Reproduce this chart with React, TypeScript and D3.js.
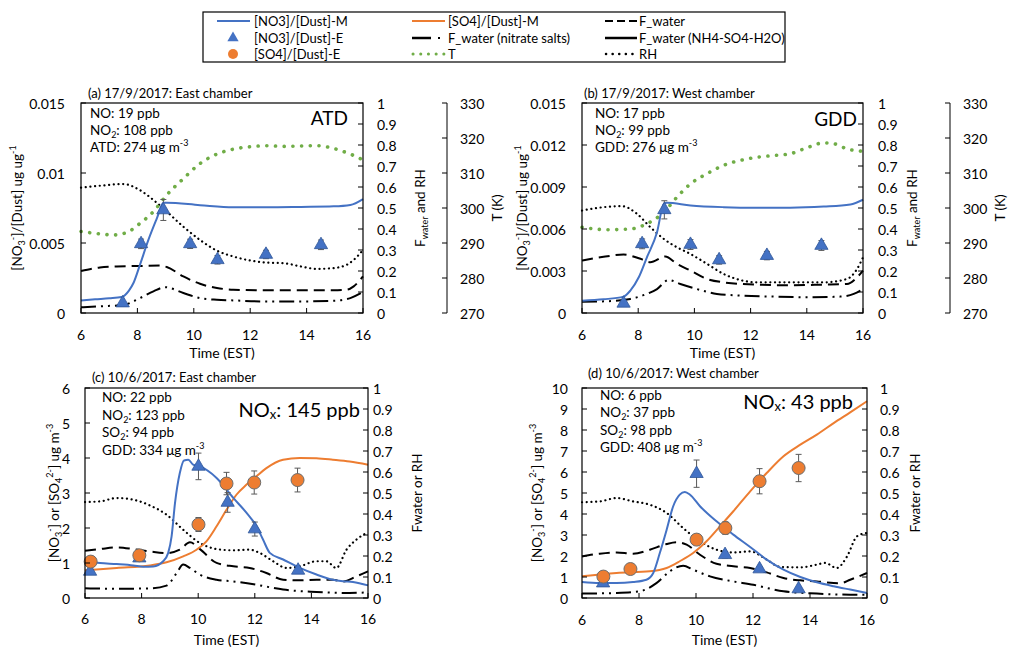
import React from "react";
import * as d3 from "d3";

type P = [number, number];

// ---------------- DATA ----------------
const timeTicks = [6, 8, 10, 12, 14, 16];
const rightTicks = [0, 0.1, 0.2, 0.3, 0.4, 0.5, 0.6, 0.7, 0.8, 0.9, 1];
const tempTicks = [270, 280, 290, 300, 310, 320, 330];
const aLeftTicks = [0, 0.005, 0.01, 0.015];
const bLeftTicks = [0, 0.003, 0.006, 0.009, 0.012, 0.015];
const cLeftTicks = [0, 1, 2, 3, 4, 5, 6];
const dLeftTicks = [0, 1, 2, 3, 4, 5, 6, 7, 8, 9, 10];

// Panel (a)
const aNO3M: P[] = [[6,0.0009],[6.5,0.00098],[7,0.00105],[7.44,0.00114],[7.7,0.0016],[7.86,0.00214],[8.09,0.00344],[8.39,0.00522],[8.69,0.00676],[8.92,0.00788],[9.04,0.00788],[10.22,0.0077],[11.4,0.00755],[12.6,0.00755],[13.8,0.00758],[14.96,0.00762],[15.55,0.00772],[16,0.00814]];
const aNO3E: P[] = [[7.48,0.00071],[8.13,0.00494],[8.92,0.00736],[9.87,0.00494],[10.84,0.0038],[12.56,0.00418],[14.51,0.00487]];
const aNO3Err = [0.0001,0.00034,0.00075,0.00033,0.0003,0.0003,0.00034];
const aT: P[] = [[6,293.3],[6.67,292.6],[7.15,292.3],[7.62,293],[8.09,295.6],[8.57,299],[9.04,303.7],[9.63,308.4],[10.22,312.7],[10.82,315.4],[11.4,316.8],[12,317.5],[12.6,317.8],[13.2,317.6],[13.78,317.7],[14.37,317.8],[14.96,317],[15.55,315.4],[16,313.7]];
const aRH: P[] = [[6,0.597],[6.67,0.606],[7.5,0.614],[8.09,0.585],[8.57,0.538],[9.04,0.483],[9.63,0.411],[10.22,0.348],[10.82,0.297],[11.4,0.269],[12,0.25],[12.6,0.24],[13.2,0.237],[13.78,0.222],[14.37,0.21],[14.96,0.214],[15.43,0.23],[15.67,0.253],[16,0.3]];
const aFw: P[] = [[6,0.2],[6.67,0.217],[7.27,0.222],[8.09,0.224],[8.8,0.226],[9.04,0.219],[9.63,0.174],[10.22,0.139],[10.82,0.119],[11.4,0.111],[12.6,0.108],[13.78,0.108],[14.96,0.108],[15.43,0.111],[15.67,0.127],[16,0.174]];
const aFwN: P[] = [[6,0.027],[6.67,0.032],[7.5,0.038],[8.09,0.071],[8.57,0.103],[8.98,0.123],[9.63,0.095],[10.22,0.071],[10.82,0.063],[11.4,0.06],[12.6,0.055],[13.78,0.055],[14.96,0.058],[15.55,0.071],[16,0.1]];

// Panel (b)
const bNO3M: P[] = [[6,0.00088],[6.77,0.00098],[7.48,0.00117],[7.72,0.0016],[8.02,0.00255],[8.31,0.00398],[8.67,0.00577],[8.91,0.0078],[9.02,0.00787],[9.86,0.00768],[11.04,0.00756],[12.23,0.00752],[13.41,0.00752],[14.6,0.0076],[15.55,0.00775],[16,0.00809]];
const bNO3E: P[] = [[7.48,0.00069],[8.14,0.00494],[8.93,0.00737],[9.86,0.00489],[10.88,0.00379],[12.58,0.0041],[14.52,0.00482]];
const bNO3Err = [0.0001,0.00035,0.00065,0.00035,0.0003,0.0003,0.00035];
const bT: P[] = [[6,294.5],[6.89,293.8],[7.72,294],[8.31,295.5],[8.91,298.8],[9.38,303.1],[9.86,306.9],[10.45,309.8],[11.04,312.2],[11.75,313.8],[12.23,314.5],[12.82,315],[13.41,315.5],[14,317.2],[14.6,318.6],[14.95,318.4],[15.43,316.9],[16,316.2]];
const bRH: P[] = [[6,0.488],[6.77,0.504],[7.42,0.509],[7.96,0.472],[8.43,0.409],[8.91,0.353],[9.38,0.313],[9.86,0.281],[10.45,0.234],[11.04,0.186],[11.63,0.157],[12.23,0.146],[13.41,0.146],[14.6,0.146],[15.43,0.162],[15.79,0.21],[16,0.265]];
const bFw: P[] = [[6,0.25],[6.65,0.265],[7.48,0.278],[8.08,0.258],[8.43,0.242],[8.96,0.269],[9.38,0.234],[9.86,0.202],[10.45,0.162],[11.04,0.146],[12.23,0.135],[13.41,0.132],[14.6,0.135],[15.43,0.138],[15.79,0.17],[16,0.202]];
const bFwN: P[] = [[6,0.054],[6.89,0.056],[7.72,0.067],[8.31,0.091],[8.67,0.114],[9.08,0.157],[9.5,0.138],[10.09,0.114],[10.8,0.091],[11.63,0.083],[12.82,0.078],[14,0.075],[15.19,0.078],[15.67,0.091],[16,0.114]];

// Panel (c)
const cNO3M: P[] = [[6,1.05],[6.53,1.0],[7.12,0.97],[7.71,0.93],[8.06,0.89],[8.41,0.9],[8.76,1.05],[8.94,1.29],[9.06,1.76],[9.18,2.71],[9.35,3.57],[9.5,3.93],[9.65,3.95],[9.82,3.81],[10.06,3.76],[10.65,3.43],[11.24,2.86],[11.71,2.43],[12.06,2.05],[12.29,1.67],[12.53,1.29],[13,1.1],[13.59,0.86],[14.18,0.67],[14.76,0.52],[15.12,0.48],[15.47,0.46],[16,0.36]];
const cSO4M: P[] = [[6,0.79],[7.12,0.86],[8.29,0.93],[8.88,1.02],[9.47,1.19],[9.94,1.38],[10.29,1.62],[10.65,2.05],[11,2.52],[11.35,2.95],[11.71,3.24],[12.06,3.48],[12.41,3.71],[13,3.95],[13.59,4.0],[14.18,3.99],[14.76,3.95],[15.35,3.9],[16,3.81]];
const cNO3E: P[] = [[6.18,0.76],[7.92,1.14],[10.01,3.76],[11.04,2.73],[12,1.97],[13.53,0.79]];
const cNO3Err = [0.05,0.08,0.38,0.28,0.2,0.05];
const cSO4E: P[] = [[6.2,1.04],[7.92,1.22],[10.01,2.1],[11.0,3.27],[11.98,3.3],[13.51,3.37]];
const cSO4Err = [0.05,0.06,0.2,0.32,0.33,0.34];
const cRH: P[] = [[6,0.457],[6.53,0.46],[7.12,0.476],[7.71,0.468],[8.29,0.441],[8.88,0.397],[9.47,0.325],[10.06,0.262],[10.65,0.233],[11.24,0.227],[11.82,0.23],[12.18,0.214],[12.65,0.175],[13.12,0.143],[13.59,0.151],[14.18,0.175],[14.53,0.175],[14.88,0.143],[15.24,0.23],[15.59,0.278],[16,0.313]];
const cFw: P[] = [[6,0.225],[6.53,0.233],[7.12,0.241],[7.71,0.233],[8.29,0.222],[8.88,0.214],[9.35,0.23],[9.71,0.265],[10.06,0.233],[10.65,0.167],[11.24,0.151],[11.82,0.143],[12.41,0.119],[13,0.087],[13.59,0.084],[14.18,0.087],[14.76,0.087],[15.12,0.079],[15.59,0.103],[16,0.127]];
const cFwN: P[] = [[6,0.046],[7.12,0.044],[8.29,0.046],[8.88,0.059],[9.24,0.119],[9.47,0.159],[9.71,0.143],[10.06,0.111],[10.65,0.087],[11.24,0.079],[12.06,0.063],[13,0.04],[14.18,0.029],[15.35,0.024],[16,0.027]];

// Panel (d)
const dNO3M: P[] = [[6,0.76],[6.62,0.71],[7.21,0.71],[7.79,0.76],[8.26,0.87],[8.5,1.19],[8.73,2.14],[8.97,3.25],[9.2,4.37],[9.43,4.92],[9.61,5.05],[9.79,4.92],[10.14,4.37],[10.72,3.65],[11.31,3.02],[11.9,2.43],[12.48,1.83],[13.07,1.35],[13.66,1.0],[14.24,0.75],[14.83,0.56],[15.41,0.4],[16,0.24]];
const dSO4M: P[] = [[6,1.03],[7.21,1.19],[8.38,1.27],[8.97,1.43],[9.43,1.75],[9.9,2.14],[10.37,2.7],[10.84,3.41],[11.31,4.13],[11.9,5.08],[12.48,5.95],[13.07,6.75],[13.66,7.3],[14.24,7.78],[14.83,8.33],[15.41,8.84],[16,9.37]];
const dNO3E: P[] = [[6.74,0.71],[10.02,5.92],[11.02,2.06],[12.23,1.38],[13.6,0.43]];
const dNO3Err = [0.05,0.65,0.15,0.1,0.05];
const dSO4E: P[] = [[6.75,1.02],[7.7,1.38],[10.02,2.78],[11.03,3.33],[12.23,5.56],[13.6,6.19]];
const dSO4Err = [0.05,0.08,0.2,0.3,0.6,0.65];
const dRH: P[] = [[6,0.456],[6.62,0.46],[7.21,0.476],[7.79,0.46],[8.38,0.444],[8.97,0.405],[9.55,0.333],[10.14,0.27],[10.72,0.23],[11.31,0.217],[11.9,0.222],[12.48,0.183],[12.95,0.148],[13.66,0.146],[14.24,0.159],[14.53,0.167],[14.94,0.143],[15.3,0.198],[15.65,0.294],[16,0.31]];
const dFw: P[] = [[6,0.198],[6.62,0.211],[7.21,0.217],[7.79,0.211],[8.38,0.23],[8.97,0.257],[9.32,0.265],[9.67,0.254],[10.14,0.206],[10.72,0.163],[11.31,0.151],[11.9,0.143],[12.48,0.122],[13.07,0.095],[13.66,0.084],[14.24,0.079],[14.83,0.071],[15.06,0.07],[15.41,0.087],[16,0.119]];
const dFwN: P[] = [[6,0.021],[7.21,0.024],[8.03,0.032],[8.61,0.071],[9.08,0.127],[9.55,0.154],[9.9,0.135],[10.49,0.103],[11.31,0.079],[12.01,0.063],[12.48,0.048],[13.07,0.032],[14.24,0.021],[15.41,0.016],[16,0.016]];

// ---------------- STYLE ----------------
const BLUE = "#4472C4";
const ORANGE = "#ED7D31";
const GREEN = "#70AD47";
const FONT = "Lato, 'Open Sans', sans-serif";
const DASH_FW = "11 6";
const DASH_FWN = "15 5 2 5 2 5";
const DOT_RH = "0.1 4.6";
const DOT_T = "0.1 8.6";

type Ann = { kind: "plain" | "sub" | "sup"; a: string; b: string; c?: string };

type Cfg = {
  box: [number, number, number, number];
  leftDomain: [number, number];
  leftTicks: number[];
  title: string;
  titleXY: [number, number];
  ann: Ann[];
  annXY: [number, number, number];
  big: { main: string; sub?: string; rest?: string; x: number; y: number; size: number };
  leftTitleX: number;
  leftTitleKind: "ratio" | "conc";
  leftLabelGap: number;
  rightLabelGap: number;
  rightTitleX: number;
  rightTitle: "and" | "or";
  tempAxisX?: number;
  tempTitleX?: number;
  tickLabelY: number;
  timeTitleY: number;
  no3M: P[];
  so4M?: P[];
  no3E: P[];
  no3Err: number[];
  so4E?: P[];
  so4Err?: number[];
  T?: P[];
  RH: P[];
  Fw: P[];
  FwN: P[];
};

const panels: Cfg[] = [
  {
    box: [81, 103, 363, 313], leftDomain: [0, 0.015], leftTicks: aLeftTicks,
    title: "(a) 17/9/2017: East chamber", titleXY: [88, 93],
    ann: [
      { kind: "plain", a: "NO: 19 ppb", b: "" },
      { kind: "sub", a: "NO", b: "2", c: ": 108 ppb" },
      { kind: "sup", a: "ATD: 274 \u03bcg m", b: "-3" },
    ],
    annXY: [90, 113, 17],
    big: { main: "ATD", x: 348, y: 117, size: 19 },
    leftTitleX: 17, leftTitleKind: "ratio", leftLabelGap: 16, rightLabelGap: 14,
    rightTitleX: 420, rightTitle: "and", tempAxisX: 447, tempTitleX: 497,
    tickLabelY: 334, timeTitleY: 352,
    no3M: aNO3M, no3E: aNO3E, no3Err: aNO3Err, T: aT, RH: aRH, Fw: aFw, FwN: aFwN,
  },
  {
    box: [582, 103, 863, 313], leftDomain: [0, 0.015], leftTicks: bLeftTicks,
    title: "(b) 17/9/2017: West chamber", titleXY: [584, 93],
    ann: [
      { kind: "plain", a: "NO: 17 ppb", b: "" },
      { kind: "sub", a: "NO", b: "2", c: ": 99 ppb" },
      { kind: "sup", a: "GDD: 276 \u03bcg m", b: "-3" },
    ],
    annXY: [595, 113, 17],
    big: { main: "GDD", x: 857, y: 118, size: 19 },
    leftTitleX: 522, leftTitleKind: "ratio", leftLabelGap: 16, rightLabelGap: 15,
    rightTitleX: 912, rightTitle: "and", tempAxisX: 950, tempTitleX: 1000,
    tickLabelY: 334, timeTitleY: 352,
    no3M: bNO3M, no3E: bNO3E, no3Err: bNO3Err, T: bT, RH: bRH, Fw: bFw, FwN: bFwN,
  },
  {
    box: [85, 388, 368, 598], leftDomain: [0, 6], leftTicks: cLeftTicks,
    title: "(c) 10/6/2017: East chamber", titleXY: [92, 377],
    ann: [
      { kind: "plain", a: "NO: 22 ppb", b: "" },
      { kind: "sub", a: "NO", b: "2", c: ": 123 ppb" },
      { kind: "sub", a: "SO", b: "2", c: ": 94 ppb" },
      { kind: "sup", a: "GDD: 334 \u03bcg m", b: "-3" },
    ],
    annXY: [102, 397, 17.7],
    big: { main: "NO", sub: "x", rest: ": 145 ppb", x: 360, y: 409, size: 20 },
    leftTitleX: 54, leftTitleKind: "conc", leftLabelGap: 15, rightLabelGap: 5,
    rightTitleX: 417, rightTitle: "or",
    tickLabelY: 618, timeTitleY: 639,
    no3M: cNO3M, so4M: cSO4M, no3E: cNO3E, no3Err: cNO3Err, so4E: cSO4E, so4Err: cSO4Err,
    RH: cRH, Fw: cFw, FwN: cFwN,
  },
  {
    box: [582, 388, 867, 598], leftDomain: [0, 10], leftTicks: dLeftTicks,
    title: "(d) 10/6/2017: West chamber", titleXY: [588, 373],
    ann: [
      { kind: "plain", a: "NO: 6 ppb", b: "" },
      { kind: "sub", a: "NO", b: "2", c: ": 37 ppb" },
      { kind: "sub", a: "SO", b: "2", c: ": 98 ppb" },
      { kind: "sup", a: "GDD: 408 \u03bcg m", b: "-3" },
    ],
    annXY: [600, 395, 17.3],
    big: { main: "NO", sub: "x", rest: ": 43 ppb", x: 853, y: 401, size: 20 },
    leftTitleX: 537, leftTitleKind: "conc", leftLabelGap: 14, rightLabelGap: 13,
    rightTitleX: 915, rightTitle: "or",
    tickLabelY: 619, timeTitleY: 639,
    no3M: dNO3M, so4M: dSO4M, no3E: dNO3E, no3Err: dNO3Err, so4E: dSO4E, so4Err: dSO4Err,
    RH: dRH, Fw: dFw, FwN: dFwN,
  },
];

const triPath = d3.symbol(d3.symbolTriangle, 76)() as string;

function AnnText({ a, x, y }: { a: Ann; x: number; y: number }) {
  const fs = 13.5;
  if (a.kind === "plain")
    return <text x={x} y={y} fontSize={fs} dominantBaseline="central">{a.a}</text>;
  if (a.kind === "sub")
    return (
      <text x={x} y={y} fontSize={fs} dominantBaseline="central">
        {a.a}
        <tspan dy={4} fontSize={9}>{a.b}</tspan>
        <tspan dy={-4}>{a.c}</tspan>
      </text>
    );
  return (
    <text x={x} y={y} fontSize={fs} dominantBaseline="central">
      {a.a}
      <tspan dy={-5} fontSize={9}>{a.b}</tspan>
    </text>
  );
}

function Panel({ cfg }: { cfg: Cfg }) {
  const [x0, y0, x1, y1] = cfg.box;
  const xs = d3.scaleLinear().domain([6, 16]).range([x0, x1]);
  const yl = d3.scaleLinear().domain(cfg.leftDomain).range([y1, y0]);
  const yr = d3.scaleLinear().domain([0, 1]).range([y1, y0]);
  const yt = d3.scaleLinear().domain([270, 330]).range([y1, y0]);
  const mk = (s: d3.ScaleLinear<number, number>) =>
    d3.line<P>().x((d) => xs(d[0])).y((d) => s(d[1])).curve(d3.curveMonotoneX);
  const cy = (y0 + y1) / 2;
  const cx = (x0 + x1) / 2;
  const fmt = (v: number) => String(v);

  return (
    <g fontFamily={FONT} fill="#000">
      <path d={mk(yr)(cfg.RH) as string} fill="none" stroke="#000" strokeWidth={2.2} strokeDasharray={DOT_RH} strokeLinecap="round" />
      <path d={mk(yr)(cfg.Fw) as string} fill="none" stroke="#000" strokeWidth={2} strokeDasharray={DASH_FW} />
      <path d={mk(yr)(cfg.FwN) as string} fill="none" stroke="#000" strokeWidth={2} strokeDasharray={DASH_FWN} />
      {cfg.T && (
        <path d={mk(yt)(cfg.T) as string} fill="none" stroke={GREEN} strokeWidth={3.6} strokeDasharray={DOT_T} strokeLinecap="round" />
      )}
      {cfg.so4M && <path d={mk(yl)(cfg.so4M) as string} fill="none" stroke={ORANGE} strokeWidth={2} />}
      <path d={mk(yl)(cfg.no3M) as string} fill="none" stroke={BLUE} strokeWidth={2} />

      {cfg.no3E.map((d, i) => {
        const x = xs(d[0]);
        const e = cfg.no3Err[i];
        const yTop = yl(d[1] + e), yBot = yl(Math.max(0, d[1] - e));
        return (
          <g key={"n" + i}>
            <line x1={x} x2={x} y1={yTop} y2={yBot} stroke="#595959" strokeWidth={1} />
            <line x1={x - 3} x2={x + 3} y1={yTop} y2={yTop} stroke="#595959" strokeWidth={1} />
            <line x1={x - 3} x2={x + 3} y1={yBot} y2={yBot} stroke="#595959" strokeWidth={1} />
            <path d={triPath} transform={`translate(${x},${yl(d[1])})`} fill={BLUE} stroke="#2F5597" strokeWidth={0.8} />
          </g>
        );
      })}
      {cfg.so4E &&
        cfg.so4E.map((d, i) => {
          const x = xs(d[0]);
          const e = cfg.so4Err![i];
          const yTop = yl(d[1] + e), yBot = yl(Math.max(0, d[1] - e));
          return (
            <g key={"s" + i}>
              <line x1={x} x2={x} y1={yTop} y2={yBot} stroke="#595959" strokeWidth={1} />
              <line x1={x - 3} x2={x + 3} y1={yTop} y2={yTop} stroke="#595959" strokeWidth={1} />
              <line x1={x - 3} x2={x + 3} y1={yBot} y2={yBot} stroke="#595959" strokeWidth={1} />
              <circle cx={x} cy={yl(d[1])} r={6.5} fill={ORANGE} stroke="#6d6d6d" strokeWidth={1} />
            </g>
          );
        })}

      <rect x={x0} y={y0} width={x1 - x0} height={y1 - y0} fill="none" stroke="#000" strokeWidth={1.2} />

      {timeTicks.map((t) => (
        <g key={"xt" + t}>
          <line x1={xs(t)} x2={xs(t)} y1={y1} y2={y1 - 5} stroke="#000" />
          <text x={xs(t)} y={cfg.tickLabelY} fontSize={14} textAnchor="middle" dominantBaseline="central">{t}</text>
        </g>
      ))}
      <text x={cx} y={cfg.timeTitleY} fontSize={14} textAnchor="middle" dominantBaseline="central">Time (EST)</text>

      {cfg.leftTicks.map((v) => (
        <g key={"yl" + v}>
          <line x1={x0} x2={x0 + 5} y1={yl(v)} y2={yl(v)} stroke="#000" />
          <text x={x0 - cfg.leftLabelGap} y={yl(v)} fontSize={14} textAnchor="end" dominantBaseline="central">{fmt(v)}</text>
        </g>
      ))}
      {cfg.leftTitleKind === "ratio" ? (
        <text transform={`translate(${cfg.leftTitleX},${cy}) rotate(-90)`} fontSize={13.5} textAnchor="middle" dominantBaseline="central">
          [NO<tspan dy={4} fontSize={9}>3</tspan><tspan dy={-9} fontSize={9}>-</tspan><tspan dy={5}>]/[Dust] ug ug</tspan><tspan dy={-5} fontSize={9}>-1</tspan>
        </text>
      ) : (
        <text transform={`translate(${cfg.leftTitleX},${cy}) rotate(-90)`} fontSize={13.5} textAnchor="middle" dominantBaseline="central">
          [NO<tspan dy={4} fontSize={9}>3</tspan><tspan dy={-9} fontSize={9}>-</tspan><tspan dy={5}>] or [SO</tspan><tspan dy={4} fontSize={9}>4</tspan><tspan dy={-9} fontSize={9}>2-</tspan><tspan dy={5}>] ug m</tspan><tspan dy={-5} fontSize={9}>-3</tspan>
        </text>
      )}

      {rightTicks.map((v) => (
        <g key={"yr" + v}>
          <line x1={x1} x2={x1 - 5} y1={yr(v)} y2={yr(v)} stroke="#000" />
          <text x={x1 + cfg.rightLabelGap} y={yr(v)} fontSize={14} textAnchor="start" dominantBaseline="central">{fmt(v)}</text>
        </g>
      ))}
      {cfg.rightTitle === "and" ? (
        <text transform={`translate(${cfg.rightTitleX},${cy}) rotate(-90)`} fontSize={13.5} textAnchor="middle" dominantBaseline="central">
          F<tspan dy={4} fontSize={9}>water</tspan><tspan dy={-4}> and RH</tspan>
        </text>
      ) : (
        <text transform={`translate(${cfg.rightTitleX},${cy}) rotate(-90)`} fontSize={13.5} textAnchor="middle" dominantBaseline="central">
          Fwater or RH
        </text>
      )}

      {cfg.tempAxisX !== undefined && (
        <g>
          <line x1={cfg.tempAxisX} x2={cfg.tempAxisX} y1={y0} y2={y1} stroke="#000" />
          {tempTicks.map((v) => (
            <g key={"tt" + v}>
              <line x1={cfg.tempAxisX} x2={cfg.tempAxisX! - 5} y1={yt(v)} y2={yt(v)} stroke="#000" />
              <text x={cfg.tempAxisX! + 13} y={yt(v)} fontSize={14} dominantBaseline="central">{v}</text>
            </g>
          ))}
          <text transform={`translate(${cfg.tempTitleX},${cy}) rotate(-90)`} fontSize={13.5} textAnchor="middle" dominantBaseline="central">T (K)</text>
        </g>
      )}

      <text x={cfg.titleXY[0]} y={cfg.titleXY[1]} fontSize={13} dominantBaseline="central">{cfg.title}</text>
      {cfg.ann.map((a, i) => (
        <AnnText key={"a" + i} a={a} x={cfg.annXY[0]} y={cfg.annXY[1] + i * cfg.annXY[2]} />
      ))}
      <text x={cfg.big.x} y={cfg.big.y} fontSize={cfg.big.size} textAnchor="end" dominantBaseline="central">
        {cfg.big.main}
        {cfg.big.sub && <tspan dy={5} fontSize={cfg.big.size * 0.65}>{cfg.big.sub}</tspan>}
        {cfg.big.rest && <tspan dy={-5}>{cfg.big.rest}</tspan>}
      </text>
    </g>
  );
}

function Legend() {
  const r1 = 21, r2 = 38, r3 = 54;
  return (
    <g fontFamily={FONT} fontSize={13}>
      <rect x={203} y={12} width={582} height={50} fill="#fff" stroke="#000" strokeWidth={1.2} />
      <line x1={217} x2={250} y1={r1} y2={r1} stroke={BLUE} strokeWidth={2} />
      <text x={254} y={r1} dominantBaseline="central">[NO3]/[Dust]-M</text>
      <path d={d3.symbol(d3.symbolTriangle, 55)() as string} transform={`translate(233,${r2})`} fill={BLUE} />
      <text x={254} y={r2} dominantBaseline="central">[NO3]/[Dust]-E</text>
      <circle cx={233} cy={r3} r={5} fill={ORANGE} />
      <text x={254} y={r3} dominantBaseline="central">[SO4]/[Dust]-E</text>
      <line x1={412} x2={445} y1={r1} y2={r1} stroke={ORANGE} strokeWidth={2} />
      <text x={448} y={r1} dominantBaseline="central">[SO4]/[Dust]-M</text>
      <line x1={412} x2={431} y1={r2} y2={r2} stroke="#000" strokeWidth={2.5} />
      <line x1={438} x2={440} y1={r2} y2={r2} stroke="#000" strokeWidth={2} />
      <text x={448} y={r2} dominantBaseline="central">F_water (nitrate salts)</text>
      <line x1={413} x2={444} y1={r3} y2={r3} stroke={GREEN} strokeWidth={3} strokeDasharray="0.1 7.6" strokeLinecap="round" />
      <text x={448} y={r3} dominantBaseline="central">T</text>
      <line x1={605} x2={637} y1={r1} y2={r1} stroke="#000" strokeWidth={2} strokeDasharray="8 4" />
      <text x={639} y={r1} dominantBaseline="central">F_water</text>
      <line x1={605} x2={637} y1={r2} y2={r2} stroke="#000" strokeWidth={2.5} />
      <text x={639} y={r2} dominantBaseline="central">F_water (NH4-SO4-H2O)</text>
      <line x1={606} x2={634} y1={r3} y2={r3} stroke="#000" strokeWidth={2.5} strokeDasharray="0.1 6.5" strokeLinecap="round" />
      <text x={639} y={r3} dominantBaseline="central">RH</text>
    </g>
  );
}

export default function App() {
  return (
    <svg width={1010} height={648} style={{ position: "absolute", left: 0, top: 0, background: "#fff" }}>
      <rect x={0} y={0} width={1010} height={648} fill="#fff" />
      <Legend />
      {panels.map((p, i) => (
        <Panel key={i} cfg={p} />
      ))}
    </svg>
  );
}
